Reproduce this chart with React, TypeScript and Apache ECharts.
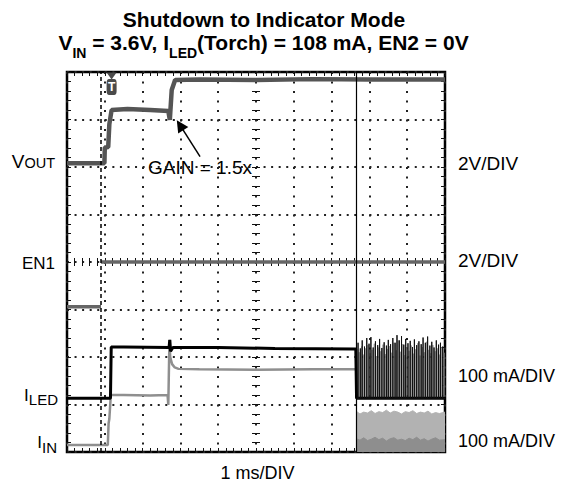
import React, { useEffect, useRef } from 'react';
import * as echarts from 'echarts';

const FONT = '"Liberation Sans", Arial, Helvetica, sans-serif';

// Horizontal: time in ms (1 ms/DIV, 10 divisions). Vertical: screen divisions (8).
const X_MIN = 0;
const X_MAX = 10;
const X_DIV = 1;
const Y_MIN = 0;
const Y_MAX = 8;
const Y_DIV = 1;
const MINOR_PER_DIV = 5;

const TRIGGER_T = 0.9;
const CURSOR_T = 7.65;
const TRIG_MARK_T = 1.18;

const ARROW_TAIL = [3.52, 6.22];
const ARROW_HEAD = [2.99, 6.88];

// VOUT trace (2V/DIV)
const VOUT_T = [0, 0.99, 1.0, 1.09, 1.12, 1.18, 1.6, 2.2, 2.68, 2.72, 2.77, 2.86, 3.5, 5, 6.5, 8, 10];
const VOUT_V = [6.08, 6.08, 6.41, 6.42, 6.9, 7.2, 7.22, 7.2, 7.18, 6.99, 7.62, 7.83, 7.84, 7.83, 7.85, 7.84, 7.84];

// EN1 trace (2V/DIV)
const EN1_T = [0, 0.9, 0.9, 0.9, 10];
const EN1_V = [3.06, 3.06, null, 4.0, 4.0];

// ILED trace (100 mA/DIV)
const ILED_T = [0, 1.15, 1.17, 1.5, 2.7, 2.72, 2.74, 2.8, 4, 5.5, 7.64, 7.66, 10];
const ILED_V = [1.13, 1.13, 2.21, 2.21, 2.2, 2.36, 2.12, 2.2, 2.2, 2.18, 2.17, 1.13, 1.13];
const ILED_BASE = 1.13;
const ILED_BURST_T = [7.70, 7.76, 7.81, 7.87, 7.93, 7.99, 8.04, 8.10, 8.16, 8.22, 8.27, 8.33, 8.39, 8.45, 8.50, 8.56, 8.62, 8.68, 8.73, 8.79, 8.85, 8.91, 8.96, 9.02, 9.08, 9.14, 9.19, 9.25, 9.31, 9.37, 9.42, 9.48, 9.54, 9.60, 9.65, 9.71, 9.77, 9.83, 9.88, 9.94];
const ILED_BURST_PEAK = [2.30, 2.18, 2.35, 2.22, 2.40, 2.28, 2.42, 2.20, 2.33, 2.25, 2.38, 2.19, 2.31, 2.24, 2.36, 2.27, 2.40, 2.30, 2.46, 2.35, 2.44, 2.26, 2.38, 2.29, 2.34, 2.21, 2.37, 2.25, 2.33, 2.27, 2.41, 2.30, 2.43, 2.24, 2.32, 2.20, 2.35, 2.26, 2.30, 2.22];

// IIN trace (100 mA/DIV)
const IIN_T = [0, 1.08, 1.1, 1.12, 1.16, 1.5, 2.2, 2.66, 2.68, 2.71, 2.73, 2.78, 2.85, 2.95, 3.5, 5, 6.5, 7.64];
const IIN_V = [0.15, 0.15, 0.6, 0.7, 1.2, 1.2, 1.19, 1.2, 0.99, 2.36, 2.0, 1.85, 1.78, 1.75, 1.74, 1.73, 1.74, 1.74];
const IIN_BAND_T = [7.65, 7.75, 7.85, 7.95, 8.05, 8.15, 8.25, 8.35, 8.45, 8.55, 8.65, 8.75, 8.85, 8.95, 9.05, 9.15, 9.25, 9.35, 9.45, 9.55, 9.65, 9.75, 9.85, 10];
const IIN_BAND_HI = [0.86, 0.80, 0.84, 0.82, 0.87, 0.81, 0.85, 0.83, 0.88, 0.82, 0.86, 0.84, 0.80, 0.85, 0.83, 0.87, 0.81, 0.84, 0.82, 0.86, 0.80, 0.83, 0.81, 0.84];
const IIN_BAND_LO = [0.28, 0.25, 0.30, 0.24, 0.27, 0.31, 0.26, 0.29, 0.23, 0.28, 0.30, 0.25, 0.27, 0.24, 0.29, 0.26, 0.31, 0.25, 0.28, 0.23, 0.27, 0.30, 0.25, 0.26];
const IIN_SPIKE_T = [7.73, 7.79, 7.84, 7.90, 7.96, 8.02, 8.07, 8.13, 8.19, 8.25, 8.30, 8.36, 8.42, 8.48, 8.53, 8.59, 8.65, 8.71, 8.76, 8.82, 8.88, 8.94, 8.99, 9.05, 9.11, 9.17, 9.22, 9.28, 9.34, 9.40, 9.45, 9.51, 9.57, 9.63, 9.68, 9.74, 9.80, 9.86, 9.91, 9.97];
const IIN_SPIKE_PEAK = [2.10, 2.22, 2.05, 2.18, 2.25, 2.08, 2.15, 2.28, 2.02, 2.20, 2.12, 2.26, 2.06, 2.17, 2.23, 2.09, 2.30, 2.14, 2.35, 2.11, 2.27, 2.04, 2.19, 2.13, 2.24, 2.07, 2.16, 2.29, 2.03, 2.21, 2.10, 2.32, 2.15, 2.08, 2.25, 2.12, 2.18, 2.05, 2.20, 2.09];

const zip = (ts: number[], vs: (number | null)[]) => ts.map((t, i) => [t, vs[i]]);
const spikes = (ts: number[], ps: number[], base: number) => {
  const out: number[][] = [[CURSOR_T, base]];
  ts.forEach((t, i) => {
    out.push([t, base], [t, ps[i]], [t, base]);
  });
  out.push([X_MAX, base]);
  return out;
};

const tickStyle = { color: '#111', width: 1 };

const xBase: any = {
  type: 'value', gridIndex: 0, min: X_MIN, max: X_MAX, interval: X_DIV,
  axisLabel: { show: false },
  axisLine: { show: false, onZero: false },
  axisTick: { show: true, inside: true, length: 4, lineStyle: tickStyle },
  minorTick: { show: true, splitNumber: MINOR_PER_DIV, length: 4, lineStyle: tickStyle },
  splitLine: { show: false },
};
const yBase: any = {
  type: 'value', gridIndex: 0, min: Y_MIN, max: Y_MAX, interval: Y_DIV,
  axisLabel: { show: false },
  axisLine: { show: false, onZero: false },
  axisTick: { show: true, inside: true, length: 4, lineStyle: tickStyle },
  minorTick: { show: true, splitNumber: MINOR_PER_DIV, length: 4, lineStyle: tickStyle },
  splitLine: { show: false },
};

const lineCommon: any = {
  type: 'line', xAxisIndex: 0, yAxisIndex: 0, showSymbol: false, symbol: 'none',
  silent: true, animation: false, connectNulls: false, emphasis: { disabled: true },
};

const txt = (x: number, y: number, text: string, size: number, align: string, extra: any = {}) => ({
  type: 'text', x, y, silent: true,
  style: { text, fontSize: size, fontFamily: FONT, fill: '#000', align, verticalAlign: 'middle', ...extra },
});

const option: any = {
  animation: false,
  backgroundColor: '#fff',
  grid: { left: 67, top: 72, width: 378, height: 380, show: true, borderColor: '#000', borderWidth: 2.5, backgroundColor: 'transparent' },
  xAxis: [
    { ...xBase, position: 'bottom', splitLine: { show: true, lineStyle: { color: '#222', width: 2, type: [2, 7.5] } } },
    { ...xBase, position: 'top' },
    { ...xBase, position: 'bottom', offset: -186, axisTick: { ...xBase.axisTick, length: 8 }, minorTick: { ...xBase.minorTick, length: 8 } },
  ],
  yAxis: [
    { ...yBase, position: 'left', splitLine: { show: true, lineStyle: { color: '#222', width: 2, type: [2, 5.56] } } },
    { ...yBase, position: 'right' },
    { ...yBase, position: 'left', offset: -185, axisTick: { ...yBase.axisTick, length: 8 }, minorTick: { ...yBase.minorTick, length: 8 } },
  ],
  series: [
    { ...lineCommon, name: 'EN1', data: zip(EN1_T, EN1_V), lineStyle: { color: '#666', width: 3.5 } },
    { ...lineCommon, name: 'VOUT', data: zip(VOUT_T, VOUT_V), lineStyle: { color: '#555', width: 4.5 } },
    { ...lineCommon, name: 'IIN', data: zip(IIN_T, IIN_V), lineStyle: { color: '#8f8f8f', width: 2.5 } },
    { ...lineCommon, name: 'IIN burst', data: zip(IIN_BAND_T, IIN_BAND_HI), lineStyle: { color: '#b2b2b2', width: 1 }, areaStyle: { color: '#b2b2b2', opacity: 1, origin: 'start' } },
    { ...lineCommon, name: 'IIN burst floor', data: zip(IIN_BAND_T, IIN_BAND_LO), lineStyle: { color: '#8e8e8e', width: 1 }, areaStyle: { color: '#8e8e8e', opacity: 1, origin: 'start' } },
    { ...lineCommon, name: 'IIN spikes', data: spikes(IIN_SPIKE_T, IIN_SPIKE_PEAK, ILED_BASE), lineStyle: { color: '#9a9a9a', width: 1 } },
    { ...lineCommon, name: 'ILED', data: zip(ILED_T, ILED_V), lineStyle: { color: '#000', width: 3 } },
    {
      ...lineCommon, name: 'ILED spikes', data: spikes(ILED_BURST_T, ILED_BURST_PEAK, ILED_BASE), lineStyle: { color: '#111', width: 1 },
      markLine: {
        silent: true, animation: false, symbol: ['none', 'none'], label: { show: false },
        data: [
          { xAxis: TRIGGER_T, lineStyle: { color: '#000', width: 1.5, type: [4, 3] } },
          { xAxis: CURSOR_T, lineStyle: { color: '#000', width: 1.2, type: 'solid' } },
          [
            { coord: ARROW_TAIL, symbol: 'none', lineStyle: { color: '#000', width: 1.5, type: 'solid' } },
            { coord: ARROW_HEAD, symbol: 'triangle', symbolSize: 12 },
          ],
        ],
      },
      markPoint: {
        silent: true, animation: false,
        data: [
          {
            coord: [TRIG_MARK_T, Y_MAX],
            symbol: 'triangle', symbolRotate: 180, symbolSize: [10, 7], symbolOffset: [0, 4],
            itemStyle: { color: '#4a4a4a' }, label: { show: false },
          },
          {
            coord: [TRIG_MARK_T, Y_MAX],
            symbol: 'roundRect', symbolSize: [10, 16], symbolOffset: [0, 15],
            itemStyle: { color: '#4a4a4a' },
            label: { show: true, formatter: 'T', color: '#fff', fontSize: 12, fontWeight: 'bold', fontFamily: FONT, position: 'inside' },
          },
        ],
      },
    },
  ],
  graphic: [
    txt(264, 19.7, 'Shutdown to Indicator Mode', 21, 'center', { fontWeight: 'bold' }),
    {
      type: 'text', x: 263.5, y: 42.7, silent: true,
      style: {
        text: '{m|V}{s|IN}{m| = 3.6V, I}{s|LED}{m|(Torch) = 108 mA, EN2 = 0V}',
        align: 'center', verticalAlign: 'middle',
        rich: {
          m: { fontSize: 21, fontWeight: 'bold', fontFamily: FONT, lineHeight: 26, fill: '#000' },
          s: { fontSize: 14, fontWeight: 'bold', fontFamily: FONT, lineHeight: 14, padding: [21, 0, 0, 0], fill: '#000' },
        },
      },
    },
    {
      type: 'text', x: 55, y: 161.7, silent: true,
      style: {
        text: '{m|V}{s|OUT}', align: 'right', verticalAlign: 'middle',
        rich: {
          m: { fontSize: 19, fontFamily: FONT, lineHeight: 22, fill: '#000' },
          s: { fontSize: 14.5, fontFamily: FONT, lineHeight: 14.5, padding: [3.2, 0, 0, 0], fill: '#000' },
        },
      },
    },
    txt(55, 263.8, 'EN1', 17, 'right'),
    {
      type: 'text', x: 58, y: 395.1, silent: true,
      style: {
        text: '{m|I}{s|LED}', align: 'right', verticalAlign: 'middle',
        rich: {
          m: { fontSize: 17, fontFamily: FONT, lineHeight: 22, fill: '#000' },
          s: { fontSize: 15, fontFamily: FONT, lineHeight: 15, padding: [9.4, 0, 0, 0], fill: '#000' },
        },
      },
    },
    {
      type: 'text', x: 57, y: 442.1, silent: true,
      style: {
        text: '{m|I}{s|IN}', align: 'right', verticalAlign: 'middle',
        rich: {
          m: { fontSize: 17, fontFamily: FONT, lineHeight: 22, fill: '#000' },
          s: { fontSize: 15, fontFamily: FONT, lineHeight: 15, padding: [11.4, 0, 0, 0], fill: '#000' },
        },
      },
    },
    txt(458, 163.7, '2V/DIV', 19, 'left'),
    txt(458, 260, '2V/DIV', 19, 'left'),
    txt(458, 375.7, '100 mA/DIV', 18, 'left'),
    txt(458, 440.5, '100 mA/DIV', 18, 'left'),
    txt(257.5, 473, '1 ms/DIV', 18, 'center'),
    txt(148, 167.5, 'GAIN = 1.5x', 19, 'left'),
  ],
};

export default function App() {
  const ref = useRef<HTMLDivElement>(null);
  useEffect(() => {
    if (!ref.current) return;
    const chart = echarts.init(ref.current, null, { renderer: 'svg' });
    chart.setOption(option);
    return () => chart.dispose();
  }, []);
  return <div ref={ref} style={{ position: 'absolute', left: 0, top: 0, width: 562, height: 485, background: '#fff' }} />;
}
